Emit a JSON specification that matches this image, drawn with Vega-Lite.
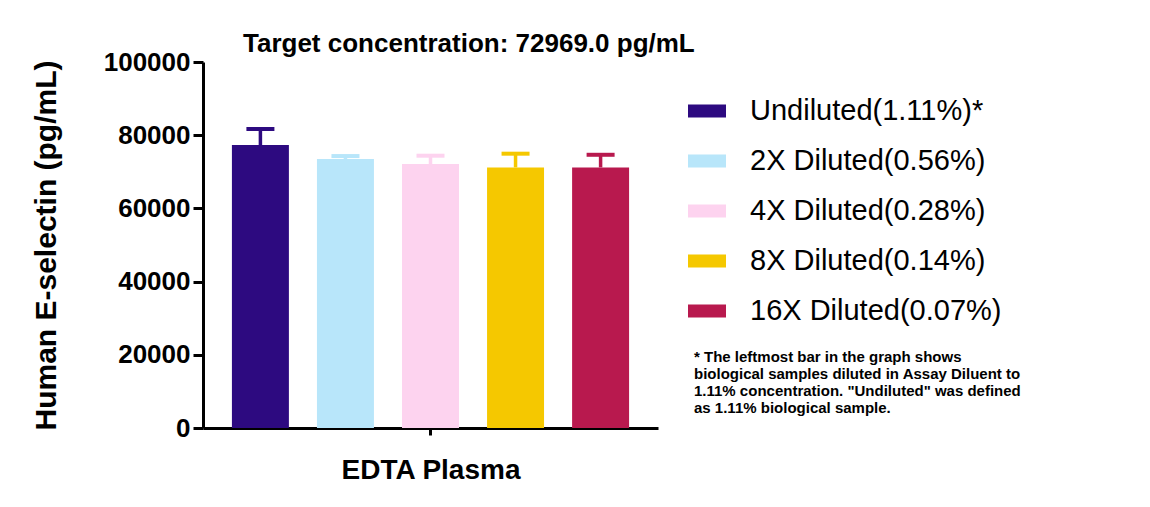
{
  "$schema": "https://vega.github.io/schema/vega-lite/v6.json",
  "width": 455,
  "height": 366,
  "autosize": {"type": "none"},
  "padding": {"left": 203, "top": 62, "right": 492, "bottom": 79},
  "background": "white",
  "config": {
    "font": "Liberation Sans",
    "view": {"stroke": null}
  },
  "title": {
    "text": "Target concentration: 72969.0 pg/mL",
    "anchor": "start",
    "frame": "group",
    "dx": 40,
    "offset": -8,
    "fontSize": 26,
    "fontWeight": "bold",
    "color": "black"
  },
  "data": {
    "values": [
      {"group": "EDTA Plasma", "sample": "Undiluted(1.11%)*", "mean": 77300, "upper": 81700},
      {"group": "EDTA Plasma", "sample": "2X Diluted(0.56%)", "mean": 73500, "upper": 74300},
      {"group": "EDTA Plasma", "sample": "4X Diluted(0.28%)", "mean": 72100, "upper": 74400},
      {"group": "EDTA Plasma", "sample": "8X Diluted(0.14%)", "mean": 71200, "upper": 74950},
      {"group": "EDTA Plasma", "sample": "16X Diluted(0.07%)", "mean": 71200, "upper": 74650}
    ]
  },
  "encoding": {
    "x": {
      "field": "group",
      "type": "nominal",
      "scale": {"paddingInner": 0, "paddingOuter": 0},
      "axis": {
        "title": "EDTA Plasma",
        "labels": false,
        "titleFontSize": 28,
        "titleFontWeight": "bold",
        "titleColor": "black",
        "titlePadding": 20,
        "domainWidth": 3,
        "domainColor": "black",
        "tickWidth": 3,
        "tickSize": 7,
        "tickColor": "black"
      }
    },
    "xOffset": {
      "field": "sample",
      "type": "nominal",
      "sort": null,
      "scale": {"paddingInner": 0.33, "paddingOuter": 0.34}
    }
  },
  "layer": [
    {
      "mark": {"type": "bar"},
      "encoding": {
        "y": {
          "field": "mean",
          "type": "quantitative",
          "scale": {"domain": [0, 100000], "nice": false},
          "axis": {
            "title": "Human E-selectin (pg/mL)",
            "values": [0, 20000, 40000, 60000, 80000, 100000],
            "format": "d",
            "grid": false,
            "labelFontSize": 26,
            "labelFontWeight": "bold",
            "labelColor": "black",
            "labelPadding": 3,
            "titleFontSize": 30,
            "titleFontWeight": "bold",
            "titleColor": "black",
            "titlePadding": 42,
            "domainWidth": 3,
            "domainColor": "black",
            "tickWidth": 3,
            "tickSize": 10,
            "tickColor": "black"
          }
        },
        "color": {
          "field": "sample",
          "type": "nominal",
          "sort": null,
          "scale": {
            "domain": ["Undiluted(1.11%)*", "2X Diluted(0.56%)", "4X Diluted(0.28%)", "8X Diluted(0.14%)", "16X Diluted(0.07%)"],
            "range": ["#2d0a80", "#b8e6fa", "#fdd3ef", "#f5c800", "#b8194e"]
          },
          "legend": {
            "orient": "none",
            "legendX": 491,
            "legendY": 30,
            "title": [
              "* The leftmost bar in the graph shows",
              "biological samples diluted in Assay Diluent to",
              "1.11% concentration. \"Undiluted\" was defined",
              "as 1.11% biological sample."
            ],
            "titleOrient": "bottom",
            "titleAnchor": "start",
            "titleFontSize": 15,
            "titleFontWeight": "bold",
            "titleColor": "black",
            "titleLineHeight": 17,
            "titlePadding": 24,
            "titleLimit": 0,
            "symbolType": "M-1,-0.34H1V0.34H-1Z",
            "symbolSize": 1444,
            "symbolOffset": -6,
            "symbolStrokeWidth": 0,
            "symbolOpacity": 1,
            "labelFontSize": 29,
            "labelColor": "black",
            "labelOffset": 24,
            "labelLimit": 0,
            "rowPadding": 16
          }
        }
      }
    },
    {
      "mark": {"type": "rule", "strokeWidth": 3.5},
      "encoding": {
        "y": {"field": "mean", "type": "quantitative"},
        "y2": {"field": "upper"},
        "color": {"field": "sample", "type": "nominal", "sort": null, "legend": null}
      }
    },
    {
      "mark": {"type": "tick", "size": 28, "thickness": 4, "opacity": 1},
      "encoding": {
        "y": {"field": "upper", "type": "quantitative"},
        "color": {"field": "sample", "type": "nominal", "sort": null, "legend": null}
      }
    }
  ]
}
